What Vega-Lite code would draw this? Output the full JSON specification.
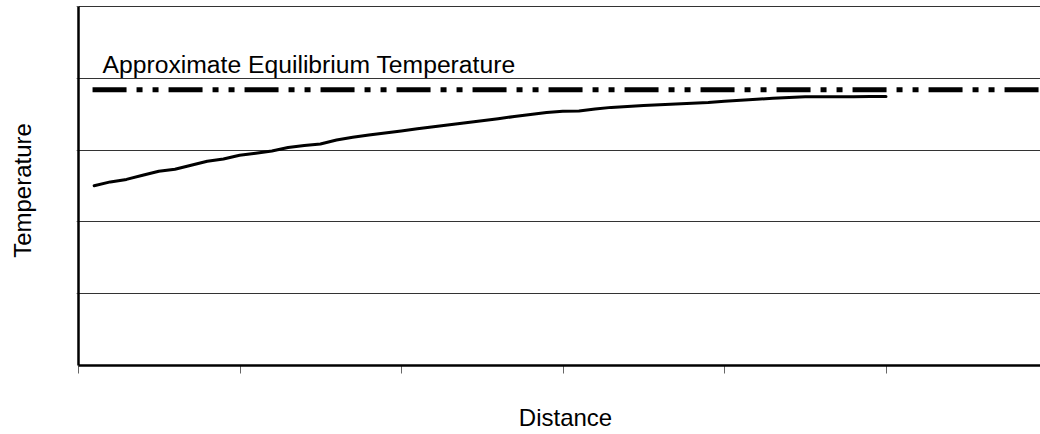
{
  "$schema": "https://vega.github.io/schema/vega-lite/v6.json",
  "autosize": {"type": "none"},
  "padding": {"left": 78, "top": 6, "right": 0, "bottom": 69},
  "width": 962,
  "height": 359,
  "background": "white",
  "datasets": {
    "profile": [
      {"distance": 0.1, "temperature": 2.497},
      {"distance": 0.2, "temperature": 2.550},
      {"distance": 0.3, "temperature": 2.585},
      {"distance": 0.4, "temperature": 2.643},
      {"distance": 0.5, "temperature": 2.699},
      {"distance": 0.6, "temperature": 2.726},
      {"distance": 0.7, "temperature": 2.781},
      {"distance": 0.8, "temperature": 2.838},
      {"distance": 0.9, "temperature": 2.869},
      {"distance": 1.0, "temperature": 2.922},
      {"distance": 1.1, "temperature": 2.950},
      {"distance": 1.2, "temperature": 2.981},
      {"distance": 1.3, "temperature": 3.029},
      {"distance": 1.4, "temperature": 3.057},
      {"distance": 1.5, "temperature": 3.078},
      {"distance": 1.6, "temperature": 3.134},
      {"distance": 1.7, "temperature": 3.171},
      {"distance": 1.8, "temperature": 3.203},
      {"distance": 1.9, "temperature": 3.231},
      {"distance": 2.0, "temperature": 3.259},
      {"distance": 2.1, "temperature": 3.290},
      {"distance": 2.2, "temperature": 3.318},
      {"distance": 2.3, "temperature": 3.345},
      {"distance": 2.4, "temperature": 3.373},
      {"distance": 2.5, "temperature": 3.401},
      {"distance": 2.6, "temperature": 3.430},
      {"distance": 2.7, "temperature": 3.461},
      {"distance": 2.8, "temperature": 3.489},
      {"distance": 2.9, "temperature": 3.517},
      {"distance": 3.0, "temperature": 3.535},
      {"distance": 3.1, "temperature": 3.538},
      {"distance": 3.2, "temperature": 3.565},
      {"distance": 3.3, "temperature": 3.588},
      {"distance": 3.4, "temperature": 3.600},
      {"distance": 3.5, "temperature": 3.613},
      {"distance": 3.6, "temperature": 3.624},
      {"distance": 3.7, "temperature": 3.635},
      {"distance": 3.8, "temperature": 3.645},
      {"distance": 3.9, "temperature": 3.655},
      {"distance": 4.0, "temperature": 3.673},
      {"distance": 4.1, "temperature": 3.688},
      {"distance": 4.2, "temperature": 3.701},
      {"distance": 4.3, "temperature": 3.714},
      {"distance": 4.4, "temperature": 3.726},
      {"distance": 4.5, "temperature": 3.735},
      {"distance": 4.6, "temperature": 3.736},
      {"distance": 4.7, "temperature": 3.737},
      {"distance": 4.8, "temperature": 3.737},
      {"distance": 4.9, "temperature": 3.738},
      {"distance": 5.0, "temperature": 3.738}
    ],
    "equilibrium": [
      {"start": 0.09, "end": 5.953, "temperature": 3.833, "label": "Approximate Equilibrium Temperature"}
    ]
  },
  "layer": [
    {
      "data": {"name": "profile"},
      "mark": {"type": "line", "color": "black", "strokeWidth": 3, "strokeCap": "round", "strokeJoin": "round"},
      "encoding": {
        "x": {
          "field": "distance",
          "type": "quantitative",
          "scale": {"domain": [0, 5.953], "nice": false, "zero": false},
          "axis": {
            "values": [0, 1, 2, 3, 4, 5],
            "labels": false,
            "grid": false,
            "tickSize": 8,
            "tickColor": "#666666",
            "tickWidth": 1,
            "domainColor": "black",
            "domainWidth": 2.5,
            "title": "Distance",
            "titleX": 487,
            "titleY": 60,
            "titleAlign": "center",
            "titleBaseline": "alphabetic"
          }
        },
        "y": {
          "field": "temperature",
          "type": "quantitative",
          "scale": {"domain": [0, 5], "nice": false},
          "axis": {
            "values": [1, 2, 3, 4, 5],
            "labels": false,
            "grid": true,
            "gridColor": "#333333",
            "gridWidth": 1,
            "tickSize": 2,
            "tickColor": "#888888",
            "domainColor": "black",
            "domainWidth": 2.5,
            "title": "Temperature",
            "titleAngle": 270,
            "titleX": -48,
            "titleY": 184,
            "titleAlign": "center",
            "titleBaseline": "alphabetic"
          }
        }
      }
    },
    {
      "data": {"name": "equilibrium"},
      "mark": {"type": "rule", "color": "black", "strokeWidth": 5, "strokeDash": [34, 10, 6, 10, 6, 10]},
      "encoding": {
        "x": {"field": "start", "type": "quantitative"},
        "x2": {"field": "end"},
        "y": {"field": "temperature", "type": "quantitative"}
      }
    },
    {
      "data": {"name": "equilibrium"},
      "mark": {"type": "text", "align": "left", "baseline": "alphabetic", "dx": 10, "dy": -17, "font": "Liberation Sans", "fontSize": 24.7, "color": "black"},
      "encoding": {
        "x": {"field": "start", "type": "quantitative"},
        "y": {"field": "temperature", "type": "quantitative"},
        "text": {"field": "label"}
      }
    }
  ],
  "config": {
    "view": {"stroke": null},
    "axis": {
      "titleFont": "Liberation Sans",
      "titleFontSize": 24,
      "titleFontWeight": "normal",
      "titleColor": "black",
      "titlePadding": 0
    }
  }
}
